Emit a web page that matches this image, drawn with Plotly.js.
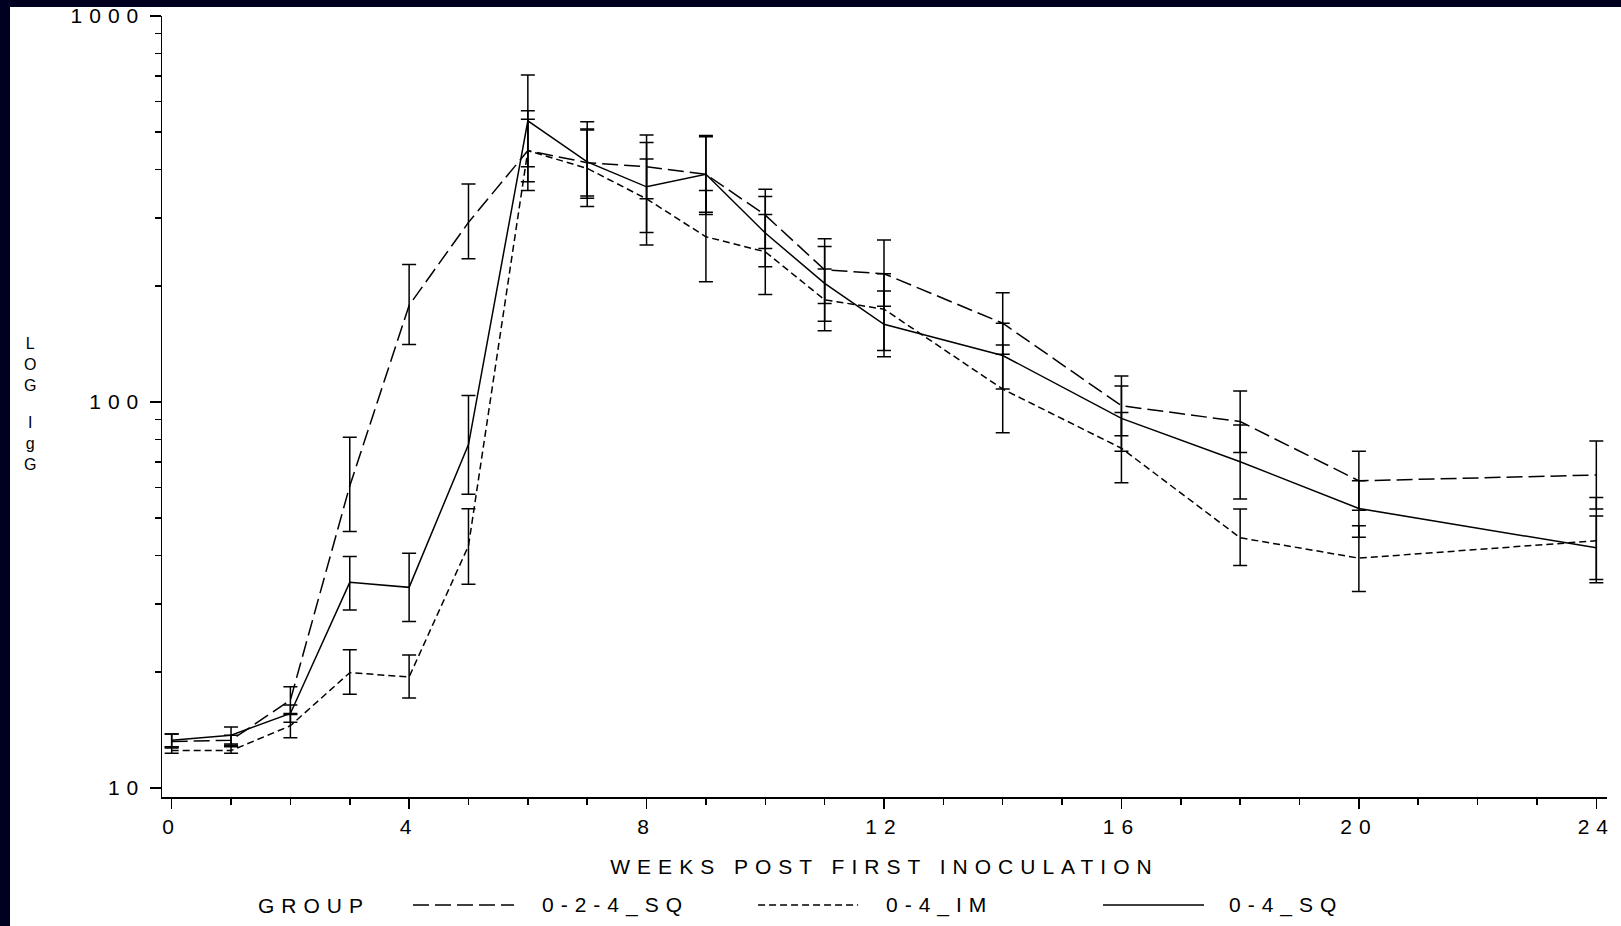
<!DOCTYPE html>
<html>
<head>
<meta charset="utf-8">
<script src="https://cdn.plot.ly/plotly-3.0.1.min.js"></script>
<style>
  html, body { margin: 0; padding: 0; background: #ffffff; width: 1621px; height: 926px; overflow: hidden; }
  #chart { position: absolute; left: 0; top: 0; width: 1621px; height: 926px; }
  .frameL { position: absolute; left: 0; top: 0; width: 10px; height: 926px; background: #000020; }
  .frameT { position: absolute; left: 0; top: 0; width: 1621px; height: 7px; background: #000020; }
  text { letter-spacing: 7px; }
</style>
</head>
<body>
<div id="chart"></div>
<div class="frameL"></div>
<div class="frameT"></div>
<script>
// ---- data ----
const weeks = [0, 1, 2, 3, 4, 5, 6, 7, 8, 9, 10, 11, 12, 14, 16, 18, 20, 24];

const sq024   = [13.2, 13.3, 16.9, 60.6, 178, 292, 448, 417, 407, 389, 305, 220, 215, 160, 97.8, 89, 62.5, 64.7];
const sq024Hi = [13.8, 13.7, 18.3, 81, 227, 367, 568, 510, 492, 487, 356, 265, 263, 192, 116.8, 106.8, 74.6, 79.2];
const sq024Lo = [12.7, 12.9, 15.6, 46.2, 141, 235, 353, 342, 336, 306, 250, 180, 177, 133, 81.8, 74, 52.4, 52.8];

const im04    = [12.5, 12.5, 14.5, 19.9, 19.4, 42.4, 448, 403, 336, 268, 245, 184, 174, 108, 75.9, 44.5, 39.4, 43.7];
const im04Hi  = [12.8, 12.8, 15.5, 22.8, 22.1, 52.9, 540, 507, 426, 353, 306, 221, 215, 140.5, 94, 52.8, 47.8, 56.6];
const im04Lo  = [12.3, 12.3, 13.5, 17.5, 17.1, 33.7, 372, 337, 255, 205, 190, 153, 136, 83.3, 61.8, 37.7, 32.3, 34];

const sq04    = [13.3, 13.7, 15.6, 34.1, 33.1, 77.6, 535, 419, 361, 389, 274, 203, 159, 132, 90.7, 70, 53, 41.9];
const sq04Hi  = [13.8, 14.4, 16.4, 39.8, 40.6, 104, 703, 532, 470, 490, 341, 253, 194, 160, 110, 87.2, 62.5, 50.7];
const sq04Lo  = [12.8, 13.0, 14.8, 28.9, 27, 57.7, 407, 321, 275, 310, 224, 162, 131, 108, 74.6, 56.1, 44.6, 34.7];

const groupNames = ['0-2-4_SQ', '0-4_IM', '0-4_SQ'];
const groupDash  = ['16px,6px', '7px,4px', 'solid'];

const yTickVals = [10, 100, 1000];
const yTickText = ['10', '100', '1000'];
const yMinorVals = [20, 30, 40, 50, 60, 70, 80, 90, 200, 300, 400, 500, 600, 700, 800, 900];

// ---- build traces ----
function mkTrace(name, dash, v, hi, lo) {
  return {
    type: 'scatter', mode: 'lines', name: name,
    x: weeks, y: v,
    line: { color: '#000', width: 1.5, dash: dash },
    error_y: {
      type: 'data', symmetric: false,
      array: v.map((d, i) => hi[i] - d),
      arrayminus: v.map((d, i) => d - lo[i]),
      color: '#000', thickness: 1.5, width: 7
    },
    showlegend: false, hoverinfo: 'x+y+name'
  };
}
const series = [
  [sq024, sq024Hi, sq024Lo],
  [im04, im04Hi, im04Lo],
  [sq04, sq04Hi, sq04Lo]
];
const traces = series.map((s, k) => mkTrace(groupNames[k], groupDash[k], s[0], s[1], s[2]));

const font = { family: 'Liberation Sans, Arial, sans-serif', size: 21, color: '#000' };

// custom legend (bottom row)
const legY = -0.1383;
const legSample = [[0.1737, 0.2436], [0.4125, 0.4817], [0.6512, 0.7211]];
const legTextX = [0.2616, 0.4997, 0.737];
const shapes = legSample.map((p, k) => ({
  type: 'line', xref: 'paper', yref: 'paper',
  x0: p[0], x1: p[1], y0: legY, y1: legY,
  line: { color: '#000', width: 1.5, dash: groupDash[k] }
}));
const yTitleFont = { family: font.family, size: 16, color: '#000' };
const annotations = [
  { xref: 'paper', yref: 'paper', x: 0.065, y: legY, xanchor: 'left', yanchor: 'middle', text: 'GROUP', showarrow: false, font: font }
].concat(groupNames.map((n, k) => ({
  xref: 'paper', yref: 'paper', x: legTextX[k], y: legY, xanchor: 'left', yanchor: 'middle',
  text: n, showarrow: false, font: font
}))).concat([
  { xref: 'paper', yref: 'paper', x: -0.0888, y: 0.5544, xanchor: 'center', yanchor: 'middle',
    text: 'L<br>O<br>G', showarrow: false, font: yTitleFont },
  { xref: 'paper', yref: 'paper', x: -0.0888, y: 0.4526, xanchor: 'center', yanchor: 'middle',
    text: 'I<br>g<br>G', showarrow: false, font: yTitleFont }
]);

const layout = {
  width: 1621, height: 926,
  paper_bgcolor: '#ffffff', plot_bgcolor: '#ffffff',
  margin: { l: 162, r: 14, t: 16, b: 129, pad: 0 },
  font: font,
  showlegend: false,
  xaxis: {
    range: [-0.163, 24.18], tickmode: 'linear', tick0: 0, dtick: 4,
    showline: true, linecolor: '#000', linewidth: 1.5, mirror: false,
    showgrid: false, zeroline: false,
    ticks: 'outside', ticklen: 10, tickwidth: 1.5, tickcolor: '#000',
    minor: { tickmode: 'linear', tick0: 0, dtick: 1, ticks: 'outside', ticklen: 6, tickwidth: 1.5, tickcolor: '#000', showgrid: false },
    tickfont: font, ticklabeloverflow: 'allow',
    title: { text: 'WEEKS POST FIRST INOCULATION', font: font, standoff: 22 }
  },
  yaxis: {
    type: 'log', range: [0.9767, 3.0001],
    tickmode: 'array', tickvals: yTickVals, ticktext: yTickText,
    showline: true, linecolor: '#000', linewidth: 1.5, mirror: false,
    showgrid: false, zeroline: false,
    ticks: 'outside', ticklen: 11, tickwidth: 1.5, tickcolor: '#000',
    minor: { tickmode: 'array', tickvals: yMinorVals, ticks: 'outside', ticklen: 6, tickwidth: 1.5, tickcolor: '#000', showgrid: false },
    tickfont: font, ticklabeloverflow: 'allow'
  },
  shapes: shapes,
  annotations: annotations
};

Plotly.newPlot('chart', traces, layout, { displayModeBar: false, staticPlot: true });
</script>
</body>
</html>
